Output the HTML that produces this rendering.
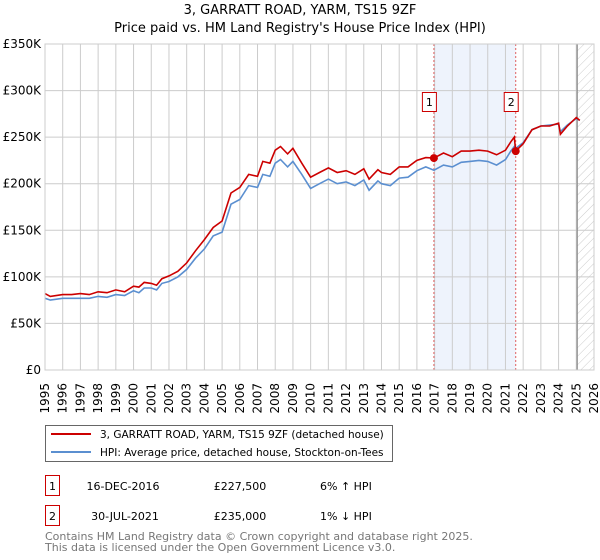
<!DOCTYPE html>
<html><head><meta charset="utf-8"><style>
body{margin:0;background:#fff;}
svg{display:block;font-family:"DejaVu Sans","Liberation Sans",sans-serif;}
</style></head><body>
<svg id="c" width="600" height="560" viewBox="0 0 600 560" xmlns="http://www.w3.org/2000/svg">
<text x="300" y="14" text-anchor="middle" font-size="13" fill="#000">3, GARRATT ROAD, YARM, TS15 9ZF</text>
<text x="300" y="32" text-anchor="middle" font-size="13" fill="#000">Price paid vs. HM Land Registry's House Price Index (HPI)</text>
<g id="plot"></g>
<g>
<rect x="45.5" y="425.5" width="347" height="36" fill="#fff" stroke="#666"/>
<line x1="51" y1="434" x2="91" y2="434" stroke="#cc0000" stroke-width="2"/>
<text x="100" y="438" font-size="10.5">3, GARRATT ROAD, YARM, TS15 9ZF (detached house)</text>
<line x1="51" y1="452" x2="91" y2="452" stroke="#5b8fd0" stroke-width="2"/>
<text x="100" y="456" font-size="10.5">HPI: Average price, detached house, Stockton-on-Tees</text>
</g>
<g font-size="11">
<rect x="45.5" y="475.5" width="14" height="20" fill="#fff" stroke="#cc0000"/>
<text x="52.5" y="490" text-anchor="middle">1</text>
<text x="123" y="490" text-anchor="middle">16-DEC-2016</text>
<text x="240" y="490" text-anchor="middle">£227,500</text>
<text x="320" y="490">6% ↑ HPI</text>
<rect x="45.5" y="505.5" width="14" height="20" fill="#fff" stroke="#cc0000"/>
<text x="52.5" y="520" text-anchor="middle">2</text>
<text x="125" y="520" text-anchor="middle">30-JUL-2021</text>
<text x="240" y="520" text-anchor="middle">£235,000</text>
<text x="320" y="520">1% ↓ HPI</text>
</g>
<text x="45" y="540" font-size="11" fill="#777">Contains HM Land Registry data © Crown copyright and database right 2025.</text>
<text x="45" y="551" font-size="11" fill="#777">This data is licensed under the Open Government Licence v3.0.</text>
</svg>
<script>
const dates=[1995,1995.3,1996,1996.5,1997,1997.5,1998,1998.5,1999,1999.5,2000,2000.3,2000.6,2001,2001.3,2001.6,2002,2002.5,2003,2003.5,2004,2004.5,2005,2005.5,2006,2006.5,2007,2007.3,2007.7,2008,2008.3,2008.7,2009,2009.5,2010,2010.5,2011,2011.5,2012,2012.5,2013,2013.3,2013.8,2014,2014.5,2015,2015.5,2016,2016.5,2016.96,2017.5,2018,2018.5,2019,2019.5,2020,2020.5,2021,2021.3,2021.5,2021.58,2022,2022.5,2023,2023.5,2024,2024.1,2024.5,2025,2025.2];
const priceValues=[82,79,81,81,82,81,84,83,86,84,90,89,94,93,91,98,101,106,115,128,140,153,160,190,196,210,208,224,222,236,240,232,238,222,207,212,217,212,214,210,216,205,215,212,210,218,218,225,228,227.5,233,229,235,235,236,235,231,236,245,250,235,243,258,262,262,265,253,262,271,268];
const hpiValues=[77,75,77,77,77,77,79,78,81,80,85,83,88,88,86,93,95,100,108,120,130,144,148,178,183,198,196,210,208,222,226,218,224,210,195,200,205,200,202,198,204,193,203,200,198,206,207,214,218,214.5,220,218,223,224,225,224,220,226,235,240,238,244,258,262,263,264,256,263,270,268];
const yTicks=[0,50,100,150,200,250,300,350];
const yTickLabels=["£0","£50K","£100K","£150K","£200K","£250K","£300K","£350K"];
const years=[1995,1996,1997,1998,1999,2000,2001,2002,2003,2004,2005,2006,2007,2008,2009,2010,2011,2012,2013,2014,2015,2016,2017,2018,2019,2020,2021,2022,2023,2024,2025,2026];
const sales=[[2016.96,227.5,"1"],[2021.58,235,"2"]];
const X0=45,X1=594,Y0=370,Y1=44;
const xs=d=>X0+(d-1995)/(2026-1995)*(X1-X0);
const ys=v=>Y0-v/350*(Y0-Y1);
const NS="http://www.w3.org/2000/svg";
const plot=document.getElementById('plot');
function mk(tag,attrs,parent){const e=document.createElementNS(NS,tag);for(const k in attrs)e.setAttribute(k,attrs[k]);(parent||plot).appendChild(e);return e;}
let r=mk('rect',{x:xs(2016.96),y:Y1,width:xs(2021.58)-xs(2016.96),height:Y0-Y1,fill:'#eef3fc'});


const defs=mk('defs',{});
const pat=mk('pattern',{id:'h',width:6,height:6,patternUnits:'userSpaceOnUse',patternTransform:'rotate(45)'},defs);
mk('line',{x1:0,y1:0,x2:0,y2:6,stroke:'#ccc','stroke-width':1},pat);
let hz=mk('rect',{x:xs(2025.05),y:Y1,width:X1-xs(2025.05),height:Y0-Y1,fill:'url(#h)'});


years.forEach(y=>{const l=mk('line',{x1:xs(y),y1:Y1,x2:xs(y),y2:Y0,stroke:'#ccc','stroke-width':1});


const t=mk('text',{x:0,y:0,transform:`translate(${xs(y)+4},383) rotate(-90)`,'text-anchor':'end','font-size':12});t.textContent=y;

});
yTicks.forEach((v,i)=>{const l=mk('line',{x1:X0,y1:ys(v),x2:X1,y2:ys(v),stroke:'#ccc','stroke-width':1});


const t=mk('text',{x:X0-4,y:ys(v)+4,'text-anchor':'end','font-size':12});t.textContent=yTickLabels[i];

});
let vl=mk('line',{x1:xs(2025.05),y1:Y1,x2:xs(2025.05),y2:Y0,stroke:'#888','stroke-width':1.2});


sales.forEach(s=>{const l=mk('line',{x1:xs(s[0]),y1:Y1,x2:xs(s[0]),y2:Y0,stroke:'#e06060','stroke-width':1,'stroke-dasharray':'2,2'});

});
function path(vals,color,name){const d=vals.map((v,i)=>(i?'L':'M')+xs(dates[i]).toFixed(1)+','+ys(v).toFixed(1)).join('');
const p=mk('path',{d:d,fill:'none',stroke:color,'stroke-width':1.6});

}
path(hpiValues,'#5b8fd0','hpi-line');
path(priceValues,'#cc0000','price-line');
sales.forEach(s=>{const c=mk('circle',{cx:xs(s[0]),cy:ys(s[1]),r:4,fill:'#cc0000'});


const b=mk('rect',{x:xs(s[0])-11.5,y:92.5,width:14,height:19,fill:'#fff',stroke:'#cc0000'});


const t=mk('text',{x:xs(s[0])-4.5,y:106,'text-anchor':'middle','font-size':11});t.textContent=s[2];

});
const fr=mk('rect',{x:X0,y:Y1,width:X1-X0,height:Y0-Y1,fill:'none',stroke:'#ccc'});


</script>
</body></html>
